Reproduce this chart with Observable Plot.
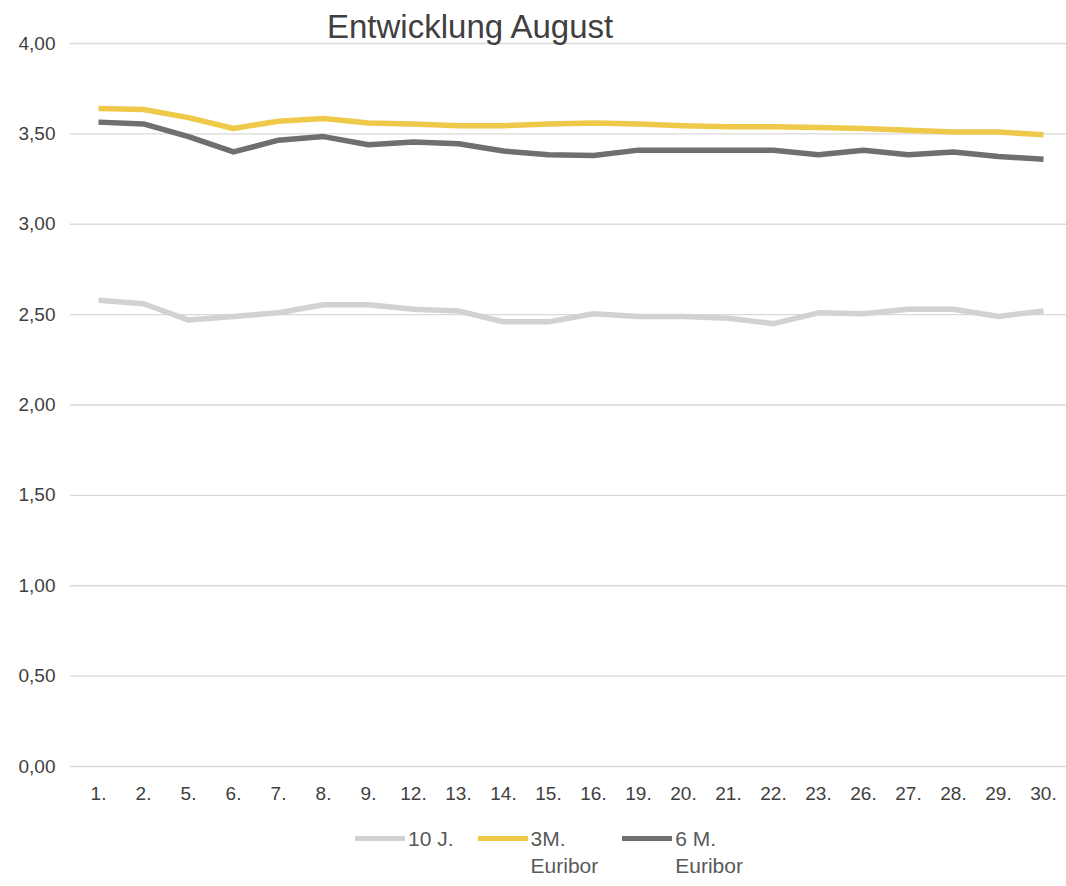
<!DOCTYPE html>
<html><head><meta charset="utf-8">
<script src="https://cdn.jsdelivr.net/npm/d3@7"></script>
<script src="https://cdn.jsdelivr.net/npm/@observablehq/plot@0.6"></script>
<style>
body{margin:0;background:#fff;font-family:"Liberation Sans",Arial,sans-serif;}
#wrap{position:relative;width:1066px;height:886px;overflow:hidden;background:#fff;}
#title{position:absolute;left:327px;top:10px;font-size:33px;line-height:1;color:#404040;white-space:nowrap;}
#chart{position:absolute;left:0;top:0;}
#legend{position:absolute;left:355px;top:825px;display:flex;align-items:flex-start;font-size:21px;color:#595959;line-height:27px;}
.item{display:flex;align-items:flex-start;margin-right:24px;}
.sw{width:50px;height:5px;margin-top:11px;margin-right:3px;}
</style></head><body>
<div id="wrap"><div id="chart"></div><div id="title">Entwicklung August</div><div id="legend"></div></div>
<script>
const days = ["1.","2.","5.","6.","7.","8.","9.","12.","13.","14.","15.","16.","19.","20.","21.","22.","23.","26.","27.","28.","29.","30."];
const zehnJ = [2.58,2.56,2.47,2.49,2.51,2.555,2.555,2.53,2.52,2.46,2.46,2.505,2.49,2.49,2.48,2.45,2.51,2.505,2.53,2.53,2.49,2.52];
const euribor3M = [3.64,3.635,3.59,3.53,3.57,3.585,3.56,3.555,3.545,3.545,3.555,3.56,3.555,3.545,3.54,3.54,3.535,3.53,3.52,3.51,3.51,3.495];
const euribor6M = [3.565,3.555,3.485,3.40,3.465,3.485,3.44,3.455,3.445,3.405,3.385,3.38,3.41,3.41,3.41,3.41,3.385,3.41,3.385,3.40,3.375,3.36];
const seriesNames = ["10 J.","3M. Euribor","6 M. Euribor"];
const legendLabels = [["10 J."],["3M.","Euribor"],["6 M.","Euribor"]];
const seriesColors = ["#d2d2d2","#eec94a","#6f6f70"];
const yTicks = [0,0.5,1,1.5,2,2.5,3,3.5,4];

const seriesValues = [zehnJ, euribor3M, euribor6M];
const rows = [];
seriesNames.forEach((s,i)=>days.forEach((d,j)=>rows.push({series:s, day:d, value:seriesValues[i][j]})));
const fmt = v => d3.format(".2f")(v).replace(".", ",");

const chart = Plot.plot({
  width: 1066, height: 815,
  marginTop: 43, marginBottom: 49, marginLeft: 70, marginRight: -5,
  style: {fontFamily: '"Liberation Sans", Arial, sans-serif', fontSize: "19px", color: "#404040", background: "transparent"},
  x: {type: "point", domain: days, padding: 0.5, label: null},
  y: {domain: [0, 4], label: null},
  color: {domain: seriesNames, range: seriesColors},
  marks: [
    Plot.gridY(yTicks, {stroke: "#d9d9d9", strokeOpacity: 1, strokeWidth: 1.3}),
    Plot.axisY({ticks: yTicks, tickFormat: fmt, tickSize: 0, tickPadding: 15, label: null, fill: "#404040"}),
    Plot.axisX({tickSize: 0, tickPadding: 20, label: null, fill: "#404040"}),
    Plot.line(rows, {x: "day", y: "value", z: "series", stroke: "series", strokeWidth: 5.5, strokeLinejoin: "round", strokeLinecap: "butt"})
  ]
});
document.getElementById("chart").appendChild(chart);

const leg = document.getElementById("legend");
seriesNames.forEach((s,i)=>{
  const it = document.createElement("div"); it.className = "item";
  const sw = document.createElement("div"); sw.className = "sw"; sw.style.background = seriesColors[i];
  const tx = document.createElement("div"); tx.innerHTML = legendLabels[i].join("<br>");
  it.appendChild(sw); it.appendChild(tx); leg.appendChild(it);
});
</script>
</body></html>
